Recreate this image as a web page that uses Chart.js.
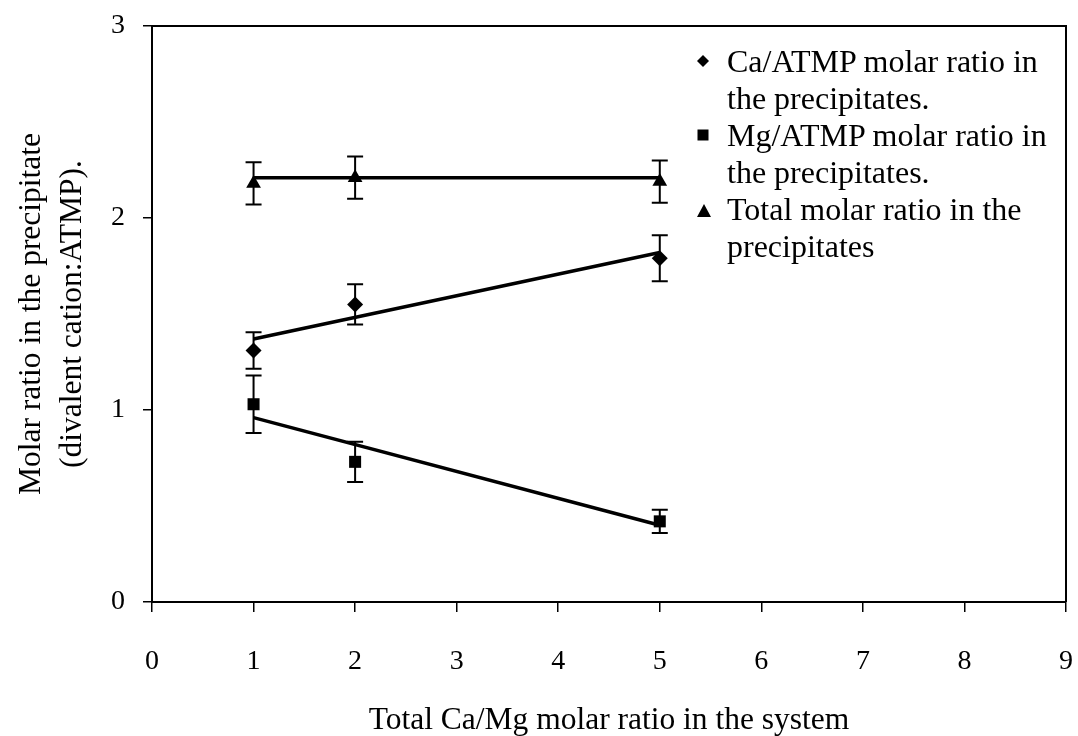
<!DOCTYPE html>
<html>
<head>
<meta charset="utf-8">
<script src="https://cdn.jsdelivr.net/npm/chart.js@4.4.1/dist/chart.umd.min.js"></script>
<style>
  body { margin: 0; background: #fff; }
  #wrap { position: relative; width: 1078px; height: 736px; }
  #legend {
    position: absolute; left: 696px; top: 43px;
    font-family: "Liberation Serif", "Times New Roman", serif;
    font-size: 32px; line-height: 37px; color: #000;
  }
  #legend .item { position: relative; padding-left: 31px; }
  #legend svg { position: absolute; left: 0; top: 11px; }
</style>
</head>
<body>
<div id="wrap">
  <canvas id="molarChart"></canvas>
  <div id="legend"></div>
</div>
<script>
// total Ca/Mg molar ratio in the system
const ratios = [1, 2, 5];

// measured molar ratios in the precipitates, with error bar half-widths
const caValues = [1.31, 1.55, 1.79];
const caErrors = [0.095, 0.105, 0.12];
const mgValues = [1.03, 0.73, 0.42];
const mgErrors = [0.15, 0.105, 0.06];
const totalValues = [2.18, 2.21, 2.19];
const totalErrors = [0.11, 0.11, 0.11];

// straight trend lines, read at x = 1 and x = 5
const fitRange = [1, 5];
const caFit = [1.37, 1.82];
const mgFit = [0.96, 0.40];
const totalFit = [2.21, 2.21];

const legendLabels = [
    ["Ca/ATMP molar ratio in", "the precipitates."],
    ["Mg/ATMP molar ratio in", "the precipitates."],
    ["Total molar ratio in the", "precipitates"]
];

const serif = "'Liberation Serif', 'Times New Roman', serif";
Chart.defaults.font.family = serif;
Chart.defaults.color = "#000";

function toPoints(xs, ys) {
    return xs.map((x, i) => ({ x: x, y: ys[i] }));
}

function markerSeries(values, errors, style, radius) {
    return {
        type: "line",
        data: toPoints(ratios, values),
        errors: errors,
        showLine: false,
        pointStyle: style,
        pointRadius: radius,
        backgroundColor: "#000",
        borderColor: "#000",
        borderWidth: 0
    };
}

function fitSeries(values) {
    return {
        type: "line",
        data: toPoints(fitRange, values),
        borderColor: "#000",
        borderWidth: 3.5,
        pointRadius: 0,
        tension: 0
    };
}

// vertical error bars with caps, placed through the chart scales
const errorBars = {
    id: "errorBars",
    beforeDatasetsDraw(chart) {
        const ctx = chart.ctx;
        const xs = chart.scales.x, ys = chart.scales.y;
        ctx.save();
        ctx.strokeStyle = "#000";
        ctx.lineWidth = 2;
        chart.data.datasets.forEach(ds => {
            if (!ds.errors) return;
            ds.data.forEach((p, i) => {
                const px = xs.getPixelForValue(p.x);
                const top = ys.getPixelForValue(p.y + ds.errors[i]);
                const bottom = ys.getPixelForValue(p.y - ds.errors[i]);
                ctx.beginPath();
                ctx.moveTo(px, top); ctx.lineTo(px, bottom);
                ctx.moveTo(px - 8, top); ctx.lineTo(px + 8, top);
                ctx.moveTo(px - 8, bottom); ctx.lineTo(px + 8, bottom);
                ctx.stroke();
            });
        });
        ctx.restore();
    }
};

// top and right edges of the plot frame
const frame = {
    id: "frame",
    afterDraw(chart) {
        const a = chart.chartArea;
        const ctx = chart.ctx;
        ctx.save();
        ctx.strokeStyle = "#000";
        ctx.lineWidth = 2;
        ctx.beginPath();
        ctx.moveTo(a.left, a.top);
        ctx.lineTo(a.right, a.top);
        ctx.lineTo(a.right, a.bottom);
        ctx.stroke();
        ctx.restore();
    }
};

const ctx = document.getElementById("molarChart").getContext("2d");
new Chart(ctx, {
    type: "line",
    data: {
        datasets: [
            markerSeries(caValues, caErrors, "rectRot", 8),
            markerSeries(mgValues, mgErrors, "rect", 8.5),
            markerSeries(totalValues, totalErrors, "triangle", 8.5),
            fitSeries(caFit),
            fitSeries(mgFit),
            fitSeries(totalFit)
        ]
    },
    options: {
        responsive: true,
        maintainAspectRatio: false,
        animation: false,
        layout: { padding: { top: 26, right: 12, left: 0, bottom: 0 } },
        plugins: {
            legend: { display: false },
            tooltip: { enabled: false }
        },
        scales: {
            x: {
                type: "linear",
                min: 0,
                max: 9,
                afterFit(scale) {
                    // tick padding should not push the plot inwards
                    scale.height = 134;
                    scale.paddingLeft = 0;
                    scale.paddingRight = 0;
                },
                ticks: { stepSize: 1, padding: 33, font: { size: 28 } },
                grid: { drawOnChartArea: false, tickLength: 10, color: "#000", lineWidth: 1.5 },
                border: { color: "#000", width: 2 },
                title: {
                    display: true,
                    text: "Total Ca/Mg molar ratio in the system",
                    font: { size: 31.5, lineHeight: 1 },
                    padding: { top: 0, bottom: 0 }
                }
            },
            y: {
                min: 0,
                max: 3,
                afterFit(scale) {
                    scale.width = 152;
                    scale.paddingTop = 0;
                    scale.paddingBottom = 0;
                },
                ticks: { stepSize: 1, padding: 18, font: { size: 28 } },
                grid: { drawOnChartArea: false, tickLength: 9, color: "#000", lineWidth: 1.5 },
                border: { color: "#000", width: 2 },
                title: {
                    display: true,
                    text: ["Molar ratio in the precipitate", "(divalent cation:ATMP)."],
                    font: { size: 31.5, lineHeight: 1.3 },
                    padding: { top: 11, bottom: 0 }
                }
            }
        }
    },
    plugins: [errorBars, frame]
});

// html legend, two lines per entry
const markers = [
    '<svg width="14" height="14"><polygon points="7,1 13,7 7,13 1,7" fill="#000"/></svg>',
    '<svg width="14" height="14"><rect x="1.5" y="1.5" width="11" height="11" fill="#000"/></svg>',
    '<svg width="16" height="16"><polygon points="8,2 15,15 1,15" fill="#000"/></svg>'
];
document.getElementById("legend").innerHTML = legendLabels.map((lines, i) =>
    '<div class="item">' + markers[i] + lines.join("<br>") + '</div>'
).join("");
</script>
</body>
</html>
